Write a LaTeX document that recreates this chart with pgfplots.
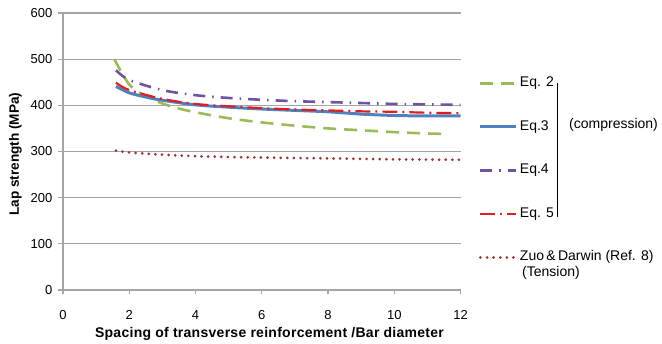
\documentclass[border=0pt]{standalone}
\usepackage{pgfplots}
\pgfplotsset{compat=1.18}
\usepackage{fontspec}
\setmainfont{Liberation Sans}
\newfontfamily\labfont[LetterSpace=2]{Liberation Sans}
\definecolor{cgreen}{RGB}{155,187,89}
\definecolor{cblue}{RGB}{79,129,189}
\definecolor{cpurple}{RGB}{112,84,160}
\definecolor{cred}{RGB}{222,30,35}
\definecolor{cbrown}{RGB}{150,55,52}
\definecolor{cgrid}{RGB}{165,165,165}
\begin{document}
\begin{tikzpicture}
\begin{axis}[
  name=ax,
  scale only axis, width=397.5bp, height=277bp,
  xmin=0, xmax=12, ymin=0, ymax=600,
  xtick={0,2,...,12}, ytick={0,100,...,600},
  axis x line*=bottom, axis y line*=left,
  axis line style={cgrid, line width=1.2pt},
  ymajorgrids, grid style={cgrid, line width=1.2pt},
  tick style={cgrid, line width=1.2pt},
  major tick length=4.5bp, tick align=outside,
  /pgf/number format/assume math mode=true,
  ticklabel style={font=\fontsize{13bp}{15bp}\selectfont, inner sep=0pt},
  yticklabel style={anchor=east, xshift=-6bp},
  xticklabel style={anchor=center, yshift=-20.5bp},
  xlabel={\bfseries Spacing of transverse reinforcement /Bar diameter},
  ylabel={\bfseries Lap strength  (MPa)},
  xlabel style={font=\labfont\fontsize{14bp}{16bp}\selectfont, at={(axis description cs:0.5195,0)}, anchor=base, yshift=-47bp, inner sep=0pt},
  ylabel style={font=\fontsize{13.6bp}{16bp}\selectfont, at={(axis description cs:-0.1112,0.49)}, anchor=base, inner sep=0pt},
  clip=false,
  legend cell align=left,
  legend style={at={(axis description cs:1.0465,0.769)}, anchor=north west, draw=none, fill=none,
    inner sep=0pt, outer sep=0pt,
    font=\fontsize{14bp}{16bp}\selectfont, row sep=30.5bp,
    nodes={inner sep=0pt, text height=10bp, text depth=3bp},
    /tikz/every odd column/.append style={column sep=2bp}},
  legend image code/.code={\draw[#1] (0bp,0bp) -- (36bp,0bp);},
]
\addplot[cgreen, line width=2.6pt, dash pattern=on 13bp off 8bp, smooth] coordinates {
(1.55,500)(2,445)(2.5,420)(3,404)(3.5,393)(4,385)(5,372)(6,363)(7,356)(8,350)(9,346)(10,342)(11,339)(11.6,338)};
\addlegendentry{Eq. 2}
\addplot[cblue, line width=3pt, smooth] coordinates {
(1.6,441)(2,427)(2.5,418)(3,411)(4,401)(5,396)(6,392)(7,389)(8,386)(9,381)(10,378)(11,377)(12,377)};
\addlegendentry{Eq.3}
\addplot[cpurple, line width=2.6pt, dash pattern=on 12bp off 7bp on 1.5bp off 7bp, smooth] coordinates {
(1.6,476)(2,455)(3,433)(4,422)(5,416)(6,412)(7,409)(8,407)(9,405)(10,403)(11,402)(12,401)};
\addlegendentry{Eq.4}
\addplot[cred, line width=2.2pt, dash pattern=on 15bp off 5bp on 2bp off 5bp, smooth] coordinates {
(1.6,449)(2,433)(3,414)(4,403)(5,398)(6,394)(7,391)(8,389)(9,387)(10,386)(11,384)(12,383)};
\addlegendentry{Eq. 5}
\addplot[cbrown, line width=3pt, dash pattern=on 0pt off 6.6bp, line cap=round, smooth] coordinates {
(1.6,302)(2,298)(3,293)(4,290)(5,288)(6,287)(7,286)(8,285)(9,284)(10,283)(11,282.5)(12,282)};
\addlegendentry{Zuo\,\&\,Darwin  (Ref. 8)}
\draw[black, line width=0.9pt] (axis description cs:1.2428,0.7473) -- (axis description cs:1.2428,0.2635);
\node[anchor=west, inner sep=0pt, font=\fontsize{14bp}{16bp}\selectfont] at (axis description cs:1.273,0.5957) {(compression)};
\node[anchor=west, inner sep=0pt, font=\fontsize{14bp}{16bp}\selectfont] at (axis description cs:1.1547,0.0614) {(Tension)};
\end{axis}
\pgfresetboundingbox
\path[use as bounding box] ([shift={(-63bp,-54bp)}]ax.south west) rectangle ([shift={(599bp,290bp)}]ax.south west);
\end{tikzpicture}
\end{document}
